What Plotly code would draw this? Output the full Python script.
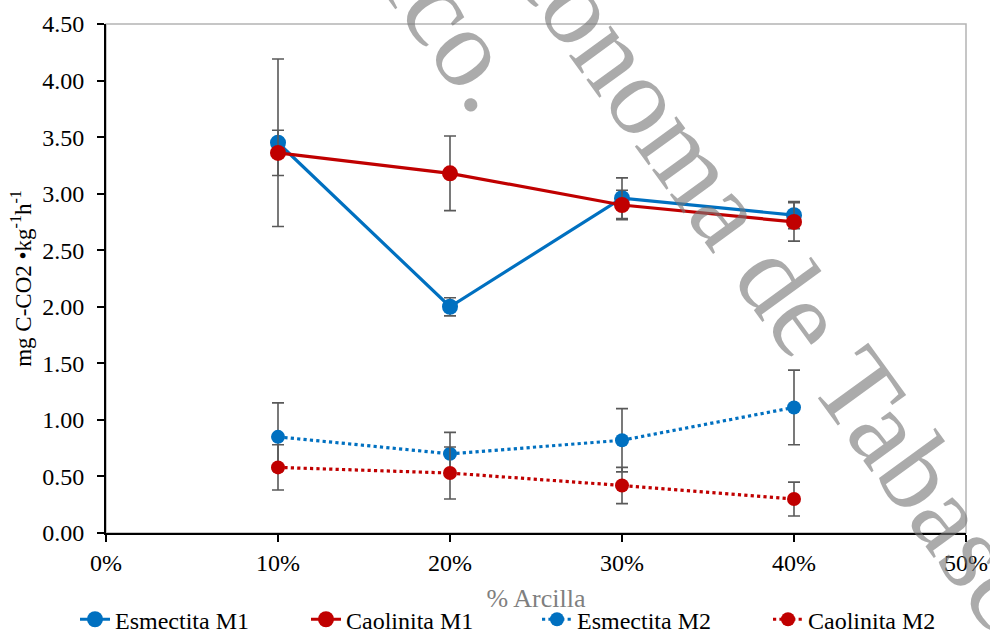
import plotly.graph_objects as go

# ---- data ----
arcilla = [0.10, 0.20, 0.30, 0.40]

esm_m1 = [3.45, 2.00, 2.96, 2.81]
esm_m1_err = [0.74, 0.08, 0.18, 0.12]
cao_m1 = [3.36, 3.18, 2.90, 2.75]
cao_m1_err = [0.20, 0.33, 0.13, 0.17]

esm_m2 = [0.85, 0.70, 0.82, 1.11]
esm_m2_err = [0.30, 0.19, 0.28, 0.33]
cao_m2 = [0.58, 0.53, 0.42, 0.30]
cao_m2_err = [0.20, 0.23, 0.16, 0.15]

y_ticks = [0, 0.5, 1.0, 1.5, 2.0, 2.5, 3.0, 3.5, 4.0, 4.5]
x_ticks = [0, 0.1, 0.2, 0.3, 0.4, 0.5]

BLUE = "#0070C0"
RED = "#C00000"
ERR = "#595959"
FONT = "Times New Roman, Liberation Serif, serif"

fig = go.Figure()

def add(name, y, err, color, dash, size):
    fig.add_trace(go.Scatter(
        x=arcilla, y=y, name=name, mode="lines+markers",
        line=dict(color=color, width=3.2, dash=dash),
        marker=dict(symbol="circle", size=size, color=color),
        error_y=dict(type="data", array=err, visible=True,
                     color=ERR, thickness=1.6, width=6),
    ))

add("Esmectita M1", esm_m1, esm_m1_err, BLUE, "solid", 16)
add("Caolinita M1", cao_m1, cao_m1_err, RED, "solid", 16)
add("Esmectita M2", esm_m2, esm_m2_err, BLUE, "dot", 14)
add("Caolinita M2", cao_m2, cao_m2_err, RED, "dot", 14)

# plot-area border (top/right grey)
fig.add_shape(type="rect", xref="paper", yref="paper", x0=0, x1=1, y0=0, y1=1,
              line=dict(color="#B4B4B4", width=1.5), layer="below")

# watermark (pixel positions converted to paper coords)
PL, PR, PT, PB = 106, 966, 24, 533
def px(x):
    return (x - PL) / (PR - PL)
def py(y):
    return (PB - y) / (PB - PT)

WM = "rgba(120,120,120,0.62)"
fig.add_annotation(text="Autónoma de Tabasco", xref="paper", yref="paper",
                   x=px(760), y=py(254), xanchor="center", yanchor="middle",
                   showarrow=False, textangle=54,
                   font=dict(family=FONT, size=112, color=WM))
fig.add_annotation(text="México.", xref="paper", yref="paper",
                   x=px(397), y=py(-53), xanchor="center", yanchor="middle",
                   showarrow=False, textangle=54,
                   font=dict(family=FONT, size=112, color=WM))

fig.update_layout(
    width=990, height=635,
    margin=dict(l=PL, r=990 - PR, t=PT, b=635 - PB, autoexpand=False),
    paper_bgcolor="white", plot_bgcolor="white",
    font=dict(family=FONT, size=24, color="#000000"),
    showlegend=True,
    legend=dict(orientation="h", x=px(75), xanchor="left", y=-0.126, yanchor="top",
                font=dict(size=24, family=FONT), entrywidth=186, entrywidthmode="pixels",
                bgcolor="rgba(0,0,0,0)"),
    xaxis=dict(range=[0, 0.5], tickvals=x_ticks, tickformat=".0%",
               showgrid=False, zeroline=False,
               showline=True, linecolor="black", linewidth=2,
               ticks="outside", ticklen=7, tickwidth=1.5, tickcolor="black",
               ticklabelstandoff=0,
               title=dict(text="% Arcilla", font=dict(color="#7F7F7F", size=26), standoff=14)),
    yaxis=dict(range=[0, 4.5], tickvals=y_ticks, tickformat=".2f",
               showgrid=False, zeroline=False,
               showline=True, linecolor="black", linewidth=2,
               ticks="outside", ticklen=7, tickwidth=1.5, tickcolor="black",
               ticklabelstandoff=8,
               title=dict(text="mg C-CO2 •kg<sup>-1</sup>h<sup>-1</sup>", font=dict(size=23), standoff=4)),
)

fig.write_html("out.html")
